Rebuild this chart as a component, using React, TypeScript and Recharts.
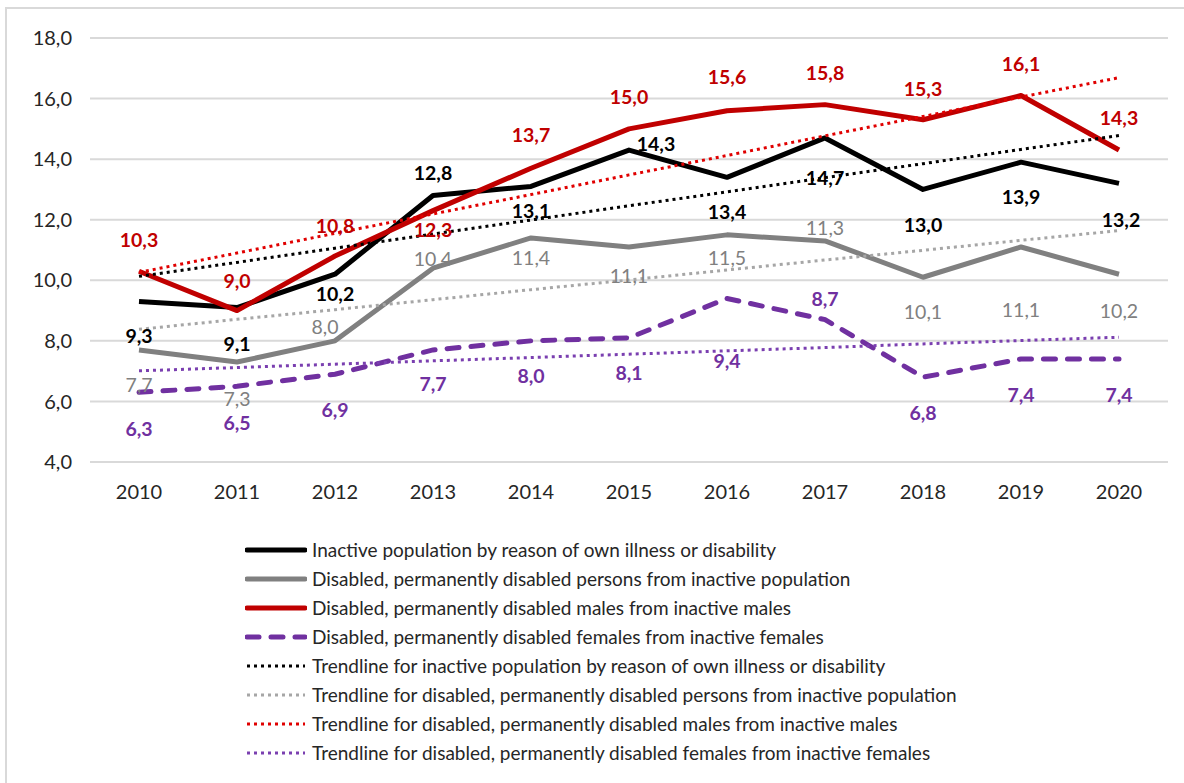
import React from 'react';
import { LineChart, Line, XAxis, YAxis, CartesianGrid, LabelList } from 'recharts';

const years = ['2010', '2011', '2012', '2013', '2014', '2015', '2016', '2017', '2018', '2019', '2020'];
const inactiveIllness = [9.3, 9.1, 10.2, 12.8, 13.1, 14.3, 13.4, 14.7, 13.0, 13.9, 13.2];
const disabledPersons = [7.7, 7.3, 8.0, 10.4, 11.4, 11.1, 11.5, 11.3, 10.1, 11.1, 10.2];
const disabledMales = [10.3, 9.0, 10.8, 12.3, 13.7, 15.0, 15.6, 15.8, 15.3, 16.1, 14.3];
const disabledFemales = [6.3, 6.5, 6.9, 7.7, 8.0, 8.1, 9.4, 8.7, 6.8, 7.4, 7.4];
const trendIllness = [10.13, 10.59, 11.06, 11.53, 11.99, 12.46, 12.92, 13.39, 13.85, 14.32, 14.78];
const trendPersons = [8.38, 8.71, 9.03, 9.36, 9.69, 10.01, 10.34, 10.67, 10.99, 11.32, 11.64];
const trendMales = [10.26, 10.9, 11.55, 12.19, 12.83, 13.48, 14.12, 14.77, 15.41, 16.05, 16.69];
const trendFemales = [7.01, 7.12, 7.23, 7.34, 7.45, 7.56, 7.67, 7.78, 7.9, 8.01, 8.12];
const yTicks = [4, 6, 8, 10, 12, 14, 16, 18];

// label placement (styling only): vertical / horizontal offsets of each label's centre from its point
const illnessDy = [34, 36, 19, -23, 24, -7, 34, 40, 35, 34, 36];
const illnessDx = [0, 0, 0, 0, 0, 27, 0, 0, 0, 0, 2];
const personsDy = [35, 36, -14, -10, 20, 29, 23, -13, 34, 63, 36];
const personsDx = [0, 0, -10, 0, 0, 0, 0, 0, 0, 0, 0];
const malesDy = [-32, -30, -31, 19, -34, -32, -34, -32, -31, -32, -33];
const femalesDy = [36, 36, 35, 34, 35, 35, 62, -21, 35, 35, 35];

const data = years.map((year, i) => ({
  year,
  illness: inactiveIllness[i],
  persons: disabledPersons[i],
  males: disabledMales[i],
  females: disabledFemales[i],
  tIllness: trendIllness[i],
  tPersons: trendPersons[i],
  tMales: trendMales[i],
  tFemales: trendFemales[i],
}));

const FONT = 'Lato, "Open Sans", sans-serif';
const fmt = (v: number) => v.toFixed(1).replace('.', ',');

const makeLabel = (dys: number[], dxs: number[] | null, color: string, bold: boolean) => (props: any) => {
  const { x, y, value, index } = props;
  const dx = dxs ? dxs[index] : 0;
  return (
    <text
      x={x + dx}
      y={y + dys[index]}
      textAnchor="middle"
      dominantBaseline="central"
      fill={color}
      fontFamily={FONT}
      fontSize={19.5}
      fontWeight={bold ? 700 : 400}
    >
      {fmt(value)}
    </text>
  );
};

const TREND_DASH = '3 4';
const legendItems = [
  { name: 'Inactive population by reason of own illness or disability', color: '#000000', width: 5, dash: '', cap: 'round' },
  { name: 'Disabled, permanently disabled persons from inactive population', color: '#808080', width: 5, dash: '', cap: 'round' },
  { name: 'Disabled, permanently disabled males from inactive males', color: '#c00000', width: 5, dash: '', cap: 'round' },
  { name: 'Disabled, permanently disabled females from inactive females', color: '#7030a0', width: 5, dash: '12 12', cap: 'round' },
  { name: 'Trendline for inactive population by reason of own illness or disability', color: '#000000', width: 3, dash: TREND_DASH, cap: 'butt' },
  { name: 'Trendline for disabled, permanently disabled persons from inactive population', color: '#a6a6a6', width: 3, dash: TREND_DASH, cap: 'butt' },
  { name: 'Trendline for disabled, permanently disabled males from inactive males', color: '#e00000', width: 3, dash: TREND_DASH, cap: 'butt' },
  { name: 'Trendline for disabled, permanently disabled females from inactive females', color: '#7a3fb0', width: 3, dash: TREND_DASH, cap: 'butt' },
];

export default function App() {
  return (
    <div style={{ position: 'absolute', left: 0, top: 0, width: 1184, height: 783, background: '#fff', overflow: 'hidden' }}>
      <div style={{ position: 'absolute', left: 5, top: 7, width: 1300, height: 900, borderTop: '2px solid #d9d9d9', borderLeft: '2px solid #d9d9d9' }} />
      <div style={{ position: 'absolute', left: 0, top: 0 }}>
        <LineChart width={1184} height={783} data={data} margin={{ top: 38, right: 16, left: 0, bottom: 291 }}>
          <CartesianGrid vertical={false} stroke="#d9d9d9" strokeWidth={2} />
          <XAxis
            dataKey="year"
            axisLine={false}
            tickLine={false}
            tickSize={0}
            tickMargin={23}
            height={30}
            padding={{ left: 49, right: 49 }}
            interval={0}
            tick={{ fill: '#262626', fontSize: 20, fontFamily: FONT }}
          />
          <YAxis
            domain={[4, 18]}
            ticks={yTicks}
            interval={0}
            axisLine={false}
            tickLine={false}
            tickSize={0}
            tickMargin={18}
            width={90}
            tickFormatter={fmt}
            tick={{ fill: '#262626', fontSize: 20, fontFamily: FONT }}
          />
          <Line dataKey="illness" stroke="#000000" strokeWidth={5} dot={false} isAnimationActive={false} strokeLinejoin="round">
            <LabelList dataKey="illness" content={makeLabel(illnessDy, illnessDx, '#000000', true)} />
          </Line>
          <Line dataKey="persons" stroke="#808080" strokeWidth={5} dot={false} isAnimationActive={false} strokeLinejoin="round">
            <LabelList dataKey="persons" content={makeLabel(personsDy, personsDx, '#808080', false)} />
          </Line>
          <Line dataKey="males" stroke="#c00000" strokeWidth={5} dot={false} isAnimationActive={false} strokeLinejoin="round">
            <LabelList dataKey="males" content={makeLabel(malesDy, null, '#c00000', true)} />
          </Line>
          <Line dataKey="females" stroke="#7030a0" strokeWidth={5} strokeDasharray="12 12" strokeLinecap="round" dot={false} isAnimationActive={false}>
            <LabelList dataKey="females" content={makeLabel(femalesDy, null, '#7030a0', true)} />
          </Line>
          <Line dataKey="tIllness" stroke="#000000" strokeWidth={3} strokeDasharray={TREND_DASH} dot={false} isAnimationActive={false} />
          <Line dataKey="tPersons" stroke="#a6a6a6" strokeWidth={3} strokeDasharray={TREND_DASH} dot={false} isAnimationActive={false} />
          <Line dataKey="tMales" stroke="#e00000" strokeWidth={3} strokeDasharray={TREND_DASH} dot={false} isAnimationActive={false} />
          <Line dataKey="tFemales" stroke="#7a3fb0" strokeWidth={3} strokeDasharray={TREND_DASH} dot={false} isAnimationActive={false} />
        </LineChart>
      </div>
      <div style={{ position: 'absolute', left: 245, top: 535, fontFamily: FONT, fontSize: 19, color: '#262626' }}>
        {legendItems.map((it) => (
          <div key={it.name} style={{ display: 'flex', alignItems: 'center', height: 29, whiteSpace: 'nowrap' }}>
            <svg width={62} height={12} style={{ marginRight: 5 }}>
              <line x1={2} y1={6} x2={60} y2={6} stroke={it.color} strokeWidth={it.width} strokeDasharray={it.dash || undefined} strokeLinecap={it.cap as any} />
            </svg>
            <span>{it.name}</span>
          </div>
        ))}
      </div>
    </div>
  );
}
